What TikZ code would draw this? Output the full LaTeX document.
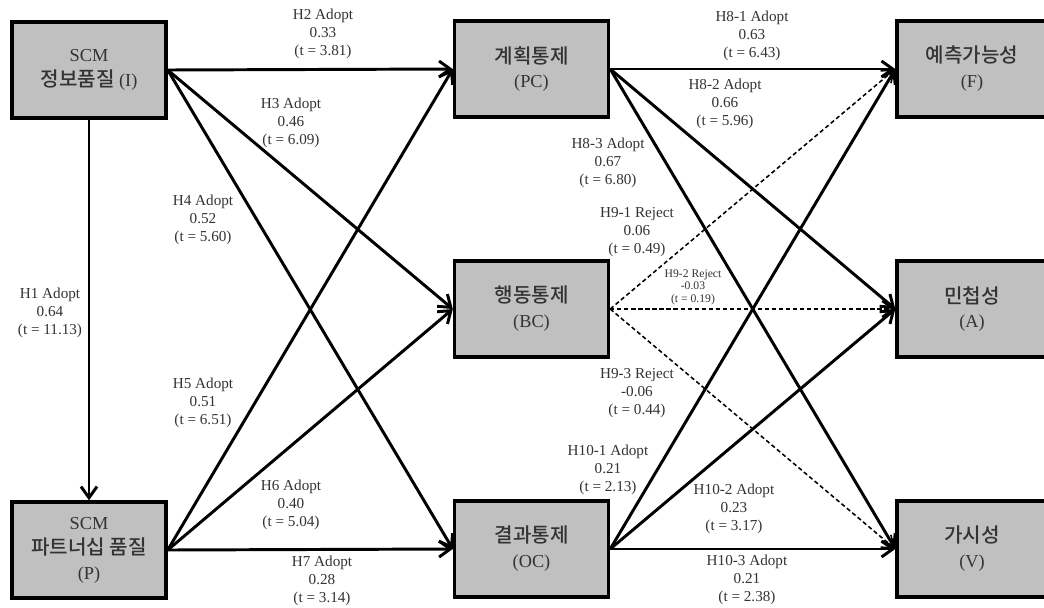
\documentclass[tikz,border=0pt]{standalone}
\usepackage{fontspec}
\setmainfont{Liberation Serif}
\newfontfamily\kr[Scale=1.1]{Noto Sans CJK KR Medium}
\usepackage{tikz}
\usetikzlibrary{arrows.meta}
\definecolor{boxgray}{HTML}{C0C0C0}
\definecolor{inkgray}{HTML}{333333}
\tikzset{
  cbox/.style={draw=black,fill=boxgray,line width=2.4pt,minimum width=3.85cm,
    minimum height=2.4cm,align=center,text=inkgray,
    font=\fontsize{13}{17.7}\selectfont},
  rbox/.style={cbox,minimum width=3.75cm},
  hyp/.style={align=center,text=inkgray,inner sep=0pt,
    font=\fontsize{10.8}{12.8}\selectfont},
  hypsmall/.style={hyp,font=\fontsize{8.3}{8.9}\selectfont},
  link/.style={line width=2.1pt,-{Straight Barb[length=2.8mm,width=4mm]}},
  weak/.style={line width=1.1pt,dash pattern=on 3pt off 2pt,
    -{Straight Barb[length=2.8mm,width=4mm]}}
}

\begin{document}
\begin{tikzpicture}[x=0.025cm,y=-0.025cm]
\path[use as bounding box] (0,0) rectangle (1044,607);

% constructs
\node[cbox] (I) at (89,70) {SCM\\{\kr 정보품질} (I)};
\node[cbox] (P) at (89,550) {SCM\\{\kr 파트너십 품질}\\(P)};
\node[cbox] (PC) at (531.5,69) {{\kr 계획통제}\\(PC)};
\node[cbox] (BC) at (531.5,309) {{\kr 행동통제}\\(BC)};
\node[cbox] (OC) at (531.5,549) {{\kr 결과통제}\\(OC)};
\node[rbox] (F) at (972,69) {{\kr 예측가능성}\\(F)};
\node[rbox] (A) at (972,309) {{\kr 민첩성}\\(A)};
\node[rbox] (V) at (972,549) {{\kr 가시성}\\(V)};

% quality -> control
\draw[link] (I) -- (P);
\foreach \src in {I,P}
  \foreach \dst in {PC,BC,OC}
    \draw[link] (\src.east) -- (\dst.west);

% control -> performance; behaviour control paths are rejected
\foreach \dst in {F,A,V} {
  \draw[link] (PC.east) -- (\dst.west);
  \draw[link] (OC.east) -- (\dst.west);
}
\draw[weak] (BC.east) -- (F.west);
\draw[weak,line width=1.6pt] (BC.east) -- (A.west);
\draw[weak] (BC.east) -- (V.west);

% path coefficients
\node[hyp] (h1) at (50,313) {H1 Adopt\\0.64\\(t = 11.13)};
\node[hyp] (h2) at (323,34) {H2 Adopt\\0.33\\(t = 3.81)};
\node[hyp] (h3) at (291,123) {H3 Adopt\\0.46\\(t = 6.09)};
\node[hyp] (h4) at (203,220) {H4 Adopt\\0.52\\(t = 5.60)};
\node[hyp] (h5) at (203,403) {H5 Adopt\\0.51\\(t = 6.51)};
\node[hyp] (h6) at (291,505) {H6 Adopt\\0.40\\(t = 5.04)};
\node[hyp] (h7) at (322,581) {H7 Adopt\\0.28\\(t = 3.14)};
\node[hyp] (h81) at (752,36) {H8-1 Adopt\\0.63\\(t = 6.43)};
\node[hyp] (h82) at (725,104) {H8-2 Adopt\\0.66\\(t = 5.96)};
\node[hyp] (h83) at (608,163) {H8-3 Adopt\\0.67\\(t = 6.80)};
\node[hyp] (h91) at (637,232) {H9-1 Reject\\0.06\\(t = 0.49)};
\node[hypsmall] (h92) at (693,287) {H9-2 Reject\\-0.03\\(t = 0.19)};
\node[hyp] (h93) at (637,393) {H9-3 Reject\\-0.06\\(t = 0.44)};
\node[hyp] (h101) at (608,470) {H10-1 Adopt\\0.21\\(t = 2.13)};
\node[hyp] (h102) at (734,509) {H10-2 Adopt\\0.23\\(t = 3.17)};
\node[hyp] (h103) at (747,580) {H10-3 Adopt\\0.21\\(t = 2.38)};
\end{tikzpicture}
\end{document}
